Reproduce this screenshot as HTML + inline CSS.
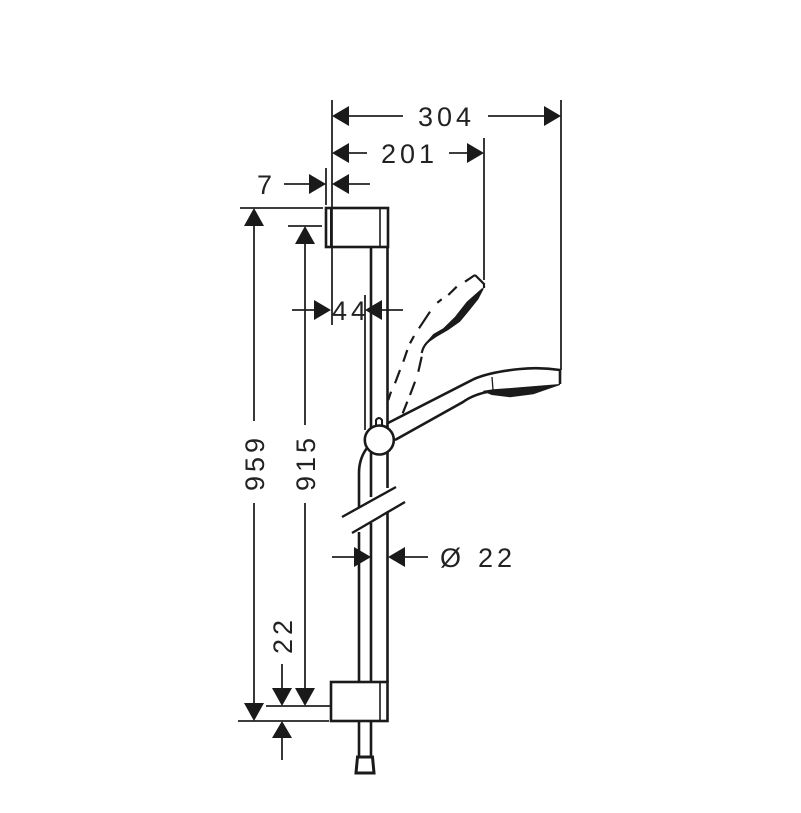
<!DOCTYPE html>
<html><head><meta charset="utf-8"><style>
html,body{margin:0;padding:0;background:#fff}
svg{display:block}
text{font-family:"Liberation Sans",sans-serif;font-size:27px;letter-spacing:4px;fill:#222}
</style></head><body>
<svg width="801" height="813" viewBox="0 0 801 813" xmlns="http://www.w3.org/2000/svg">
<g fill="none" stroke="#222" stroke-width="1.800">
<path d="M332 100V325M561 100V370M484 138V280M326 168V205M365 295V430"/>
<path d="M349 116H403M488 116H545M349 153H367M449 153H468M284 184H309M349 184H370"/>
<path d="M240 208H323M288 226H322M266 706H330M238 721H329"/>
<path d="M254 226V421M254 503V703M305 244V425M305 503V688M282 664V688M282 738V760"/>
<path d="M292 310H314M382 310H403M332 557H354M405 557H428"/>
</g>
<g fill="#1a1a1a">
<path d="M332 116L349 106V126Z M561 116L544 106V126Z"/>
<path d="M332 153L349 143V163Z M484 153L467 143V163Z"/>
<path d="M326 184L309 174V194Z M332 184L349 174V194Z"/>
<path d="M254 208L244 226H264Z M254 721L244 703H264Z"/>
<path d="M305 226L295 244H315Z M305 706L295 688H315Z"/>
<path d="M282 706L272 688H292Z M282 721L272 738H292Z"/>
<path d="M331 310L314 300V320Z M365 310L382 300V320Z"/>
<path d="M371 557L354 547V567Z M388 557L405 547V567Z"/>
</g>
<g fill="none" stroke="#1a1a1a" stroke-width="2.600">
<rect x="326" y="208" width="62" height="39"/>
<path d="M331 208V247" stroke-width="2"/>
<path d="M380 208V247" stroke-width="1.600"/>
<rect x="331" y="682" width="56.500" height="39"/>
<path d="M380 682V721" stroke-width="1.600"/>
<path d="M371 247V430M387.500 247V430M371 450V497M387.500 450V488M387.500 512V682M371 523V682M359 532V682"/>
<path d="M367 448C361 456 359 464 359 473V507"/>
<path d="M359 721V756M371 721V756"/>
<path d="M357.500 757H372.500L374 773H356Z" stroke-width="3"/>
<path d="M342 517L396 487M352 533L405 502" stroke-width="2.400"/>
<path d="M388 423L474 379Q490 372 520 369Q540 367 560 370V384M395 440L463 402Q474 394 492 391"/>
</g>
<path d="M376 428V420Q379 416 382 420V428" fill="#fff" stroke="#1a1a1a" stroke-width="2"/>
<circle cx="379.300" cy="440" r="14.500" fill="#fff" stroke="#1a1a1a" stroke-width="2.600"/>
<g fill="none" stroke="#1a1a1a" stroke-width="1.300"><path d="M492 377L493 390"/></g>
<path d="M483.300 390.700L493.300 389.300L520 387.300L560 384L560 385L533.300 394.300L510 397.300L491.700 395L483.300 391.500Z" fill="#1a1a1a"/>
<g fill="none" stroke="#1a1a1a" stroke-width="2.200">
<path d="M388.300 400L391 391.700M395 383.300L400 370M403.300 361.700L407.300 350M410 343.300L414 336M419 328.300L430 311.700M437.300 302.700L441.700 299.300M448.300 295L456.700 286.700M465 281.700L475 275"/>
<path d="M421.700 356.700L418.300 371.700M415 381.700L410 395M407.300 401.700L402.700 413.300"/>
<path d="M475 275L484 284V288"/>
<path d="M421.700 353Q423 347 426.700 343L433 336.700"/>
</g>
<path d="M482 288.300L466.700 301.700L455 316.700L443.300 328.300L433.300 334L426.700 341.700L427.300 343.300L436.700 336.700L448.300 330L460 321.700L468.300 311.700L478.300 299.300L484 288.300Z" fill="#1a1a1a"/>
<text x="418" y="126">304</text>
<text x="381" y="163">201</text>
<text x="257" y="194">7</text>
<text x="332" y="320">4</text>
<text x="351" y="320">4</text>
<text x="440" y="567">Ø</text>
<text x="478" y="567">22</text>
<text transform="translate(264 491) rotate(-90)">959</text>
<text transform="translate(315 491) rotate(-90)">915</text>
<text transform="translate(292 654) rotate(-90)">22</text>
</svg>
</body></html>
